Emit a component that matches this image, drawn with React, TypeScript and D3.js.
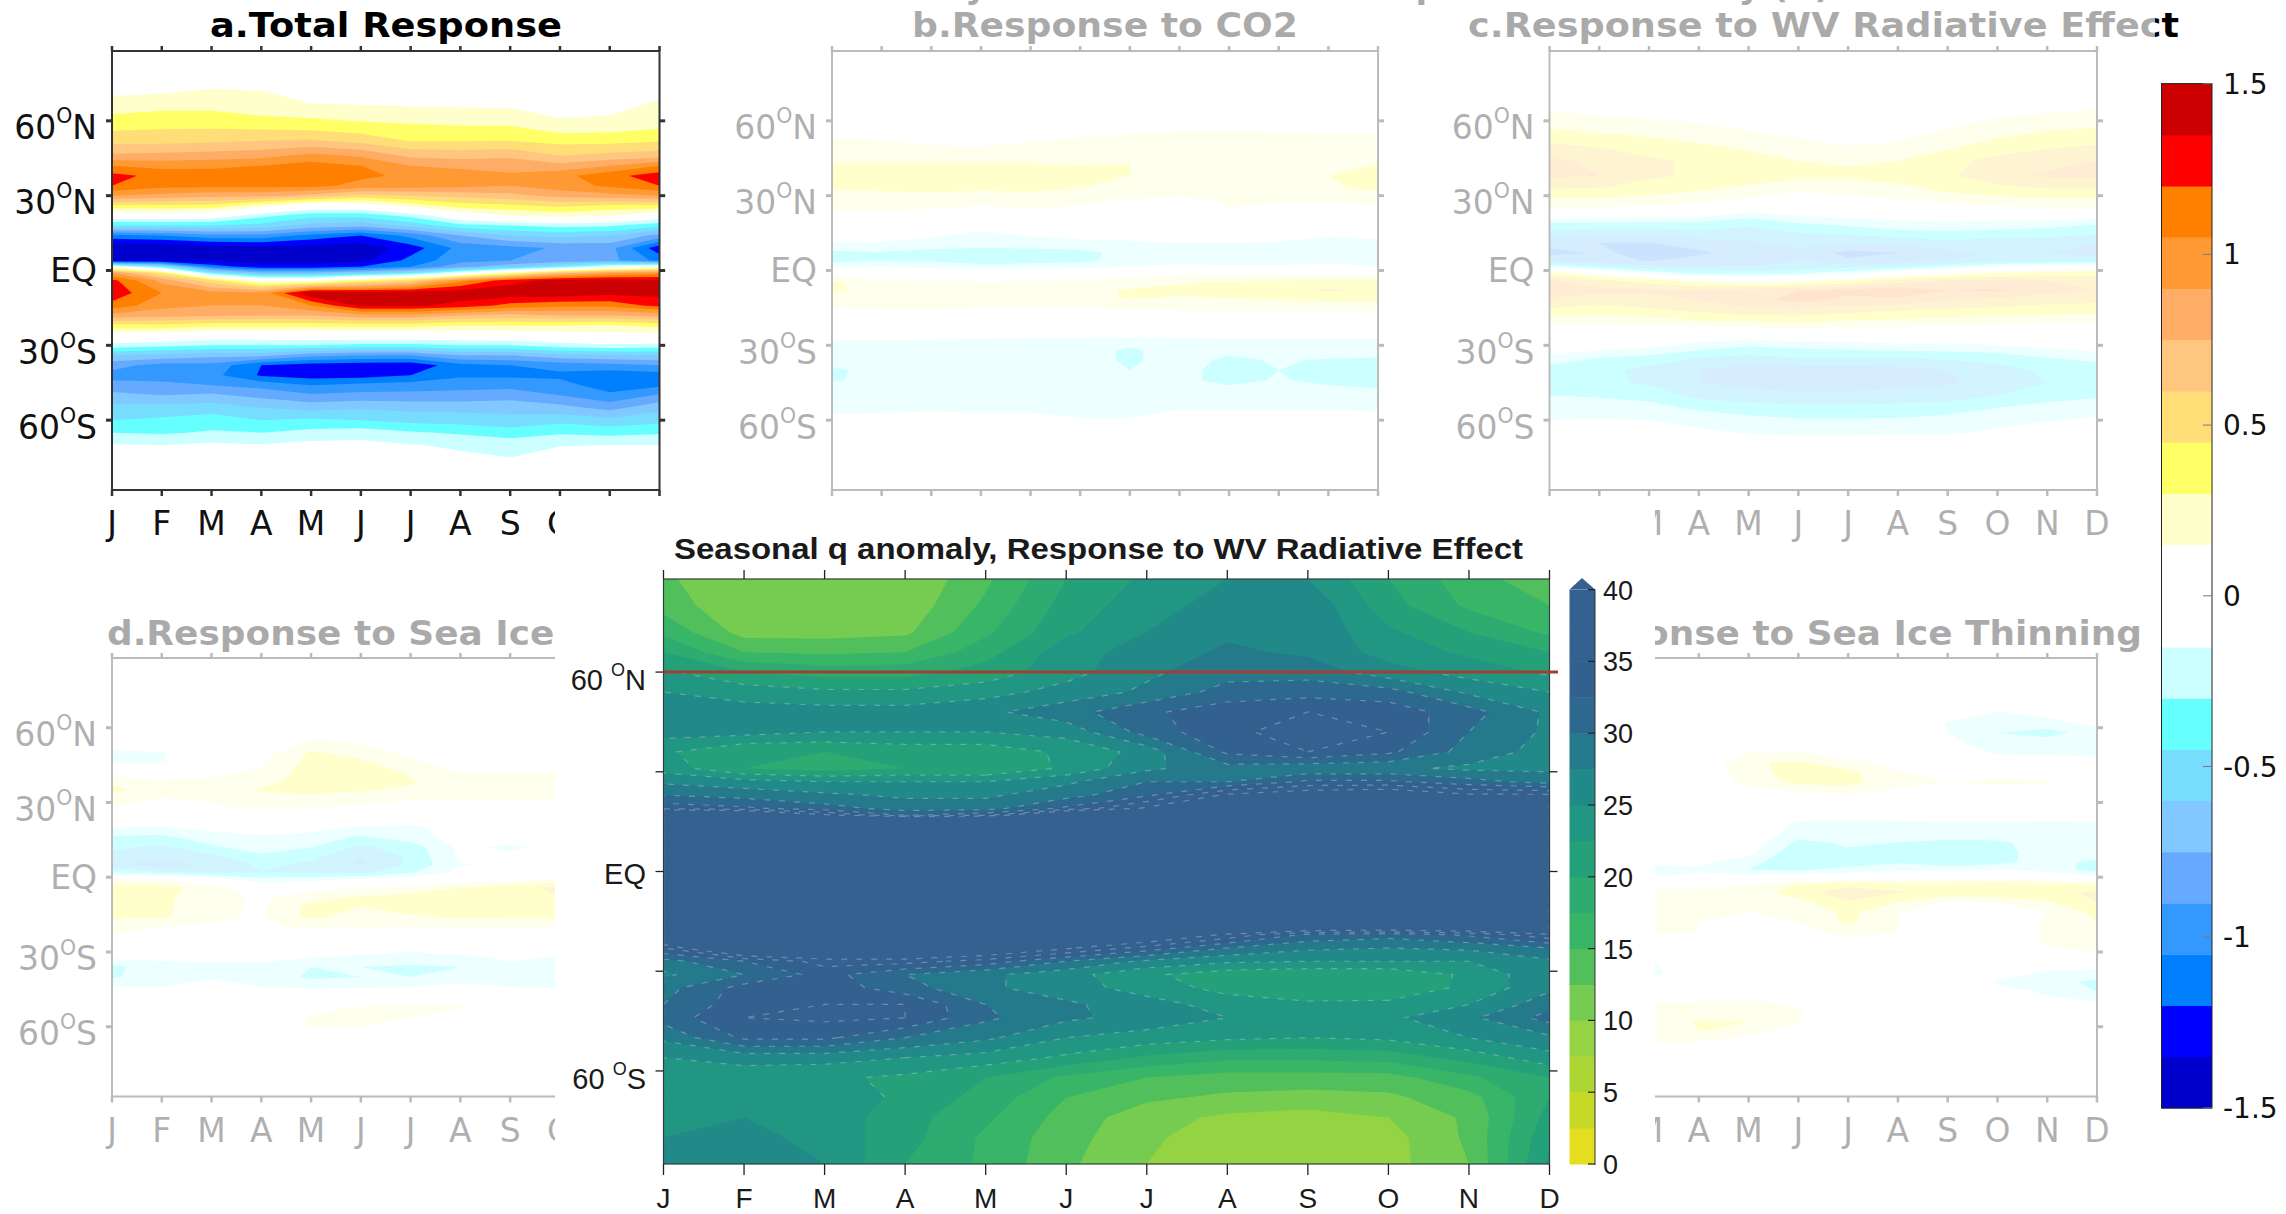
import React from 'react';
import * as d3 from 'd3';

const months = ['J', 'F', 'M', 'A', 'M', 'J', 'J', 'A', 'S', 'O', 'N', 'D'];
const latTicks = [60, 30, 0, -30, -60];
const barTicks = [1.5, 1, 0.5, 0, -0.5, -1, -1.5];
const qBarTicks = [40, 35, 30, 25, 20, 15, 10, 5, 0];

// anomaly colour bands, lowest first, one per 0.15 step from -1.5
const bandColors = ['#0000cc', '#0000ff', '#0080ff', '#3399ff', '#66aaff', '#80c8ff', '#77ddff', '#66ffff', '#ccffff', '#ffffff',
  '#ffffff', '#ffffcc', '#ffff66', '#ffdd77', '#ffc680', '#ffad66', '#ff9933', '#ff8000', '#ff0000', '#cc0000'];
const qStops = [0, 5, 10, 15, 20, 25, 30, 32.5, 40];
const qStopColors = ['#f2e11b', '#b9d62b', '#88d24a', '#3fba62', '#27a676', '#1f9287', '#26708c', '#33618f', '#34618f'];

const latsA = [88, 76, 70, 64, 58, 52, 46, 42, 38, 34, 30, 26, 22, 18, 14, 9, 4, 1.5, -1, -4, -9, -14, -18, -22, -26, -30, -34, -38, -42, -46, -50, -55, -60, -65, -70, -76, -88];
const gridA = [
  [0, 0, 0, 0, 0, 0, 0, 0, 0, 0, 0, 0],
  [.05, .05, .07, .06, .03, .03, .03, .03, .03, .02, .03, .04],
  [.15, .17, .22, .2, .08, .08, .08, .08, .06, .03, .05, .13],
  [.27, .3, .3, .25, .22, .2, .18, .17, .17, .1, .12, .22],
  [.4, .42, .42, .4, .38, .34, .32, .3, .3, .2, .22, .27],
  [.55, .55, .57, .6, .62, .55, .44, .44, .45, .4, .4, .44],
  [.78, .8, .82, .85, .95, .88, .72, .7, .72, .6, .65, .68],
  [1.05, 1.0, 1.02, 1.05, 1.12, 1.05, .9, .85, .85, .8, .9, 1.05],
  [1.25, 1.15, 1.12, 1.15, 1.18, 1.08, 1.02, 1.0, .92, 1.0, 1.15, 1.28],
  [1.2, 1.1, 1.1, 1.1, 1.1, 1.0, .98, .95, .9, .98, 1.08, 1.2],
  [.9, .85, .8, .8, .7, .55, .6, .65, .7, .8, .85, .9],
  [.42, .42, .4, .2, 0, 0, .2, .38, .42, .48, .42, .42],
  [-.02, 0, -.03, -.25, -.4, -.4, -.25, 0, .15, .2, .15, 0],
  [-.45, -.45, -.45, -.5, -.65, -.7, -.55, -.35, -.3, -.25, -.28, -.4],
  [-1.1, -1.05, -.95, -.95, -1.1, -1.2, -1.0, -.75, -.6, -.55, -.6, -.8],
  [-1.5, -1.5, -1.45, -1.42, -1.42, -1.45, -1.28, -1.0, -.95, -.88, -.85, -1.3],
  [-1.4, -1.4, -1.4, -1.4, -1.4, -1.4, -1.15, -.95, -.9, -.85, -.85, -1.1],
  [0, -.4, -1.1, -1.3, -1.3, -1.2, -1.05, -.8, -.65, -.4, -.1, .1],
  [.9, .45, -.4, -.7, -.7, -.6, -.45, -.1, .3, .7, .9, 1.0],
  [1.25, .85, .5, .1, .1, .35, .55, 1.0, 1.3, 1.4, 1.42, 1.38],
  [1.3, 1.05, .95, .95, 1.5, 1.45, 1.45, 1.45, 1.45, 1.45, 1.4, 1.4],
  [1.15, .95, .9, .9, 1.05, 1.38, 1.38, 1.3, 1.15, 1.1, 1.1, 1.25],
  [.85, .8, .78, .75, .75, .85, .85, .75, .7, .75, .75, .8],
  [.4, .4, .35, .35, .35, .35, .35, .3, .3, .3, .28, .35],
  [.05, .05, 0, 0, -.02, 0, 0, 0, .02, .05, .08, .08],
  [-.2, -.25, -.3, -.3, -.3, -.35, -.35, -.3, -.3, -.22, -.18, -.2],
  [-.6, -.65, -.7, -.7, -.85, -.9, -.9, -.75, -.75, -.65, -.62, -.6],
  [-.85, -.95, -.95, -1.2, -1.27, -1.3, -1.32, -1.1, -1.05, -1.0, -.95, -.9],
  [-.95, -.98, -1.0, -1.22, -1.27, -1.27, -1.2, -1.08, -1.08, -1.08, -1.15, -1.12],
  [-.85, -.85, -.9, -.95, -1.05, -1.0, -.98, -.95, -.95, -1.0, -1.12, -1.08],
  [-.7, -.75, -.72, -.8, -.88, -.85, -.85, -.85, -.82, -.9, -1.02, -.88],
  [-.55, -.55, -.52, -.6, -.65, -.62, -.65, -.65, -.65, -.7, -.8, -.65],
  [-.45, -.42, -.38, -.45, -.42, -.45, -.5, -.52, -.55, -.5, -.55, -.5],
  [-.3, -.32, -.28, -.3, -.25, -.22, -.28, -.32, -.38, -.32, -.35, -.32],
  [-.14, -.15, -.12, -.14, -.1, -.1, -.14, -.18, -.2, -.16, -.15, -.15],
  [-.03, -.03, -.03, -.03, -.02, -.02, -.03, -.1, -.14, -.05, -.03, -.03],
  [0, 0, 0, 0, 0, 0, 0, 0, 0, 0, 0, 0],
];

const latsB = [88, 60, 54, 48, 43, 38, 33, 28, 23, 19, 15, 11, 7, 4, 1, -2, -5, -8, -11, -15, -19, -24, -28, -32, -36, -40, -44, -48, -54, -59, -64, -88];
const gridB = [
  [0, 0, 0, 0, 0, 0, 0, 0, 0, 0, 0, 0],
  [0, 0, 0, 0, 0, .02, .03, .05, .06, .05, .04, .02],
  [.14, .13, .1, .1, .12, .14, .17, .19, .2, .18, .17, .17],
  [.2, .2, .18, .17, .2, .22, .24, .24, .25, .24, .23, .22],
  [.3, .3, .3, .3, .3, .29, .3, .27, .25, .25, .27, .3],
  [.36, .38, .38, .38, .38, .35, .3, .26, .24, .24, .3, .36],
  [.31, .34, .36, .33, .34, .3, .23, .2, .2, .2, .28, .33],
  [.18, .18, .2, .18, .2, .18, .14, .12, .16, .16, .16, .18],
  [.14, .14, .13, .1, .12, .1, .05, .05, .14, .1, .08, .1],
  [0, 0, 0, 0, 0, 0, 0, 0, 0, 0, 0, 0],
  [0, -.05, -.1, -.17, -.12, -.1, -.08, -.05, -.05, -.08, -.12, -.1],
  [-.15, -.17, -.2, -.22, -.2, -.18, -.17, -.15, -.15, -.16, -.19, -.18],
  [-.34, -.32, -.36, -.38, -.38, -.36, -.22, -.2, -.2, -.2, -.2, -.22],
  [-.34, -.32, -.32, -.4, -.38, -.34, -.24, -.2, -.2, -.2, -.18, -.28],
  [-.14, -.12, -.16, -.18, -.17, -.16, -.12, -.1, -.12, -.12, -.1, -.12],
  [.12, .1, .08, .08, .08, .1, .12, .15, .17, .2, .2, .2],
  [.33, .2, .18, .16, .17, .2, .22, .28, .34, .36, .38, .38],
  [.34, .22, .2, .18, .18, .22, .33, .36, .38, .4, .47, .42],
  [.2, .22, .22, .2, .2, .22, .32, .28, .3, .33, .35, .35],
  [.15, .16, .16, .15, .14, .14, .17, .18, .2, .2, .2, .22],
  [.05, .05, .05, .05, .05, .05, .05, .05, .05, .05, .05, .05],
  [0, 0, 0, 0, 0, 0, 0, 0, 0, 0, 0, 0],
  [-.15, -.15, -.16, -.18, -.2, -.2, -.22, -.2, -.18, -.18, -.18, -.18],
  [-.2, -.2, -.2, -.2, -.2, -.22, -.33, -.22, -.25, -.2, -.2, -.2],
  [-.24, -.22, -.22, -.22, -.22, -.22, -.33, -.22, -.34, -.28, -.32, -.34],
  [-.32, -.26, -.24, -.24, -.24, -.24, -.3, -.25, -.36, -.3, -.35, -.37],
  [-.32, -.24, -.24, -.28, -.28, -.24, -.24, -.25, -.36, -.28, -.36, -.38],
  [-.2, -.2, -.22, -.24, -.22, -.22, -.22, -.24, -.24, -.22, -.24, -.28],
  [-.18, -.18, -.18, -.18, -.18, -.18, -.18, -.18, -.18, -.18, -.18, -.18],
  [-.14, -.13, -.12, -.13, -.13, -.15, -.15, -.1, -.1, -.1, -.1, -.12],
  [0, 0, 0, 0, 0, 0, 0, 0, 0, 0, 0, 0],
  [0, 0, 0, 0, 0, 0, 0, 0, 0, 0, 0, 0],
];

const latsC = [88, 68, 62, 56, 50, 44, 38, 32, 27, 23, 19, 15, 11, 7, 4, 1.5, -1, -4, -8, -12, -16, -20, -25, -30, -35, -40, -45, -50, -55, -60, -65, -70, -88];
const gridC = [
  [0, 0, 0, 0, 0, 0, 0, 0, 0, 0, 0, 0],
  [.06, .05, .03, .02, .01, 0, 0, 0, .02, .05, .06, .08],
  [.19, .15, .13, .1, .05, .03, .02, .03, .08, .14, .17, .2],
  [.32, .28, .24, .2, .15, .1, .08, .1, .16, .24, .3, .33],
  [.48, .43, .38, .32, .27, .2, .15, .17, .26, .36, .42, .46],
  [.62, .58, .48, .42, .36, .3, .28, .3, .4, .5, .56, .6],
  [.63, .6, .48, .42, .38, .34, .33, .35, .42, .55, .62, .62],
  [.42, .42, .37, .3, .25, .17, .2, .25, .32, .38, .42, .42],
  [.24, .22, .18, .15, .05, .03, .05, .1, .15, .2, .22, .22],
  [.04, .03, 0, -.05, -.17, -.1, -.05, -.02, 0, .02, .03, .04],
  [-.3, -.32, -.33, -.33, -.42, -.3, -.25, -.2, -.17, -.2, -.22, -.28],
  [-.5, -.55, -.55, -.5, -.5, -.45, -.42, -.35, -.33, -.35, -.38, -.42],
  [-.72, -.75, -.76, -.68, -.62, -.58, -.6, -.58, -.5, -.55, -.55, -.6],
  [-.78, -.74, -.77, -.78, -.68, -.62, -.8, -.75, -.65, -.58, -.6, -.66],
  [-.68, -.66, -.77, -.68, -.66, -.6, -.72, -.66, -.6, -.55, -.5, -.5],
  [-.2, -.42, -.55, -.6, -.6, -.55, -.5, -.45, -.28, -.1, -.05, .02],
  [.35, .1, -.2, -.35, -.38, -.32, -.2, -.02, .15, .3, .35, .38],
  [.62, .48, .38, .2, .08, .15, .3, .5, .6, .6, .6, .55],
  [.72, .65, .62, .62, .68, .75, .78, .88, .75, .78, .65, .6],
  [.55, .5, .55, .6, .72, .78, .72, .7, .6, .55, .5, .48],
  [.42, .38, .42, .48, .55, .55, .5, .45, .42, .4, .38, .36],
  [.22, .22, .24, .3, .33, .35, .3, .28, .25, .22, .2, .18],
  [.02, 0, .02, 0, 0, .05, .03, .02, 0, 0, 0, 0],
  [0, -.05, -.1, -.2, -.28, -.25, -.22, -.18, -.18, -.15, -.1, -.05],
  [-.2, -.3, -.35, -.45, -.5, -.45, -.45, -.45, -.42, -.4, -.3, -.25],
  [-.38, -.4, -.5, -.6, -.68, -.68, -.68, -.66, -.6, -.5, -.42, -.4],
  [-.42, -.4, -.48, -.6, -.68, -.7, -.7, -.65, -.62, -.55, -.45, -.38],
  [-.3, -.32, -.35, -.5, -.52, -.55, -.55, -.55, -.52, -.45, -.38, -.33],
  [-.22, -.22, -.25, -.33, -.4, -.42, -.42, -.4, -.38, -.3, -.24, -.2],
  [-.15, -.14, -.15, -.2, -.24, -.28, -.28, -.28, -.24, -.2, -.16, -.13],
  [-.04, -.05, -.07, -.12, -.16, -.18, -.18, -.17, -.17, -.12, -.07, -.04],
  [0, 0, 0, -.01, -.03, -.05, -.04, -.02, -.02, 0, 0, 0],
  [0, 0, 0, 0, 0, 0, 0, 0, 0, 0, 0, 0],
];

const latsD = [88, 62, 56, 50, 46, 42, 38, 35, 32, 28, 24, 20, 16, 12, 8, 5, 2, -1, -4, -8, -12, -16, -20, -24, -28, -32, -36, -40, -44, -48, -52, -56, -60, -64, -88];
const gridD = [
  [0, 0, 0, 0, 0, 0, 0, 0, 0, 0, 0, 0],
  [0, 0, 0, 0, .02, .01, 0, 0, 0, 0, 0, 0],
  [0, 0, 0, .03, .14, .1, .02, 0, 0, 0, 0, 0],
  [-.18, -.16, 0, .07, .32, .24, .1, 0, 0, 0, 0, 0],
  [-.17, -.17, .02, .12, .36, .33, .2, .03, 0, 0, 0, 0],
  [.05, .08, .12, .18, .38, .38, .28, .15, .15, .16, .1, .05],
  [.28, .17, .18, .25, .38, .36, .32, .18, .18, .18, .12, .1],
  [.36, .18, .18, .32, .36, .32, .25, .2, .2, .2, .12, .1],
  [.2, .15, .16, .25, .24, .22, .18, .18, .2, .18, .1, .1],
  [.15, .1, .14, .17, .15, .12, .08, .05, .05, .05, .03, .03],
  [.03, .03, .03, 0, 0, 0, 0, 0, 0, 0, 0, 0],
  [-.15, -.17, -.1, -.08, -.1, -.17, -.2, -.05, -.03, 0, 0, 0],
  [-.33, -.34, -.22, -.17, -.2, -.33, -.22, -.08, -.05, 0, 0, 0],
  [-.42, -.48, -.33, -.22, -.3, -.48, -.38, -.12, -.18, -.1, 0, 0],
  [-.5, -.58, -.5, -.35, -.42, -.6, -.42, -.12, -.1, -.05, 0, 0],
  [-.55, -.7, -.55, -.42, -.48, -.62, -.42, -.16, -.12, -.05, 0, 0],
  [-.32, -.42, -.45, -.45, -.45, -.5, -.32, -.1, -.03, 0, 0, 0],
  [.2, .15, -.05, -.25, -.2, -.1, -.05, .05, .1, .2, .2, .2],
  [.4, .38, .2, .05, .05, .15, .2, .3, .38, .5, .3, .3],
  [.35, .33, .22, .12, .25, .32, .35, .45, .42, .45, .3, .3],
  [.37, .33, .2, .12, .36, .3, .35, .42, .4, .42, .3, .25],
  [.33, .33, .18, .13, .34, .22, .28, .32, .33, .33, .25, .2],
  [.18, .15, .13, .12, .18, .15, .15, .16, .17, .17, .15, .1],
  [.14, .1, .05, .02, .03, .02, .02, .03, .03, .03, .03, 0],
  [0, 0, 0, 0, -.02, -.05, -.08, -.02, 0, 0, 0, 0],
  [-.1, -.13, -.13, -.1, -.13, -.18, -.22, -.18, -.12, -.16, -.1, -.1],
  [-.35, -.18, -.17, -.2, -.3, -.3, -.32, -.3, -.18, -.2, -.15, -.1],
  [-.33, -.18, -.16, -.2, -.33, -.3, -.3, -.2, -.16, -.2, -.15, -.1],
  [-.15, -.15, -.12, -.15, -.18, -.17, -.15, -.12, -.15, -.17, -.1, -.08],
  [0, 0, 0, 0, 0, 0, 0, .08, .05, 0, 0, 0],
  [0, 0, 0, 0, .03, .16, .18, .17, 0, 0, 0, 0],
  [0, 0, 0, 0, .17, .18, .16, .05, 0, 0, 0, 0],
  [0, 0, 0, 0, .16, .15, .03, 0, 0, 0, 0, 0],
  [0, 0, 0, 0, 0, 0, 0, 0, 0, 0, 0, 0],
  [0, 0, 0, 0, 0, 0, 0, 0, 0, 0, 0, 0],
];

const latsE = [88, 70, 66, 62, 58, 54, 50, 46, 42, 38, 34, 30, 26, 22, 18, 14, 10, 6, 3, 0, -3, -6, -10, -14, -18, -22, -26, -30, -34, -38, -42, -46, -50, -54, -58, -62, -66, -70, -88];
const gridE = [
  [0, 0, 0, 0, 0, 0, 0, 0, 0, 0, 0, 0],
  [0, 0, 0, 0, 0, 0, 0, 0, 0, 0, 0, 0],
  [0, 0, 0, 0, 0, 0, 0, 0, -.05, -.16, -.1, -.03],
  [0, 0, 0, 0, 0, 0, 0, 0, -.16, -.22, -.2, -.1],
  [0, 0, 0, 0, 0, 0, 0, 0, -.15, -.3, -.36, -.22],
  [0, 0, 0, 0, 0, 0, 0, 0, -.1, -.25, -.22, -.2],
  [0, 0, 0, 0, .15, .16, .07, .02, 0, -.17, -.17, -.17],
  [-.12, -.12, -.16, .03, .28, .33, .2, .1, 0, -.05, -.08, -.12],
  [0, 0, 0, .03, .22, .38, .34, .16, .1, .1, .05, 0],
  [.1, .15, .15, .02, .2, .34, .36, .18, .15, .18, .18, .02],
  [.1, .12, .12, .02, .03, .14, .18, .12, .05, .04, 0, 0],
  [0, 0, 0, 0, 0, 0, 0, 0, 0, 0, 0, 0],
  [0, 0, 0, 0, 0, -.02, -.05, -.03, -.02, 0, 0, 0],
  [0, 0, 0, 0, 0, -.17, -.18, -.17, -.16, -.16, -.17, -.16],
  [0, 0, 0, 0, -.02, -.22, -.22, -.22, -.2, -.22, -.2, -.2],
  [0, 0, 0, 0, -.05, -.33, -.28, -.3, -.33, -.32, -.25, -.22],
  [0, -.02, -.02, 0, -.1, -.42, -.32, -.35, -.38, -.36, -.22, -.2],
  [-.2, -.2, -.1, -.1, -.25, -.42, -.38, -.32, -.42, -.35, -.22, -.35],
  [-.35, -.36, -.3, -.18, -.3, -.32, -.25, -.18, -.18, -.15, -.2, -.38],
  [-.32, -.2, -.15, -.1, -.05, -.02, 0, 0, 0, 0, 0, -.1],
  [.05, .1, .1, .12, .15, .32, .42, .38, .38, .4, .36, .35],
  [.15, .15, .18, .18, .2, .4, .52, .46, .42, .45, .42, .47],
  [.18, .2, .22, .2, .18, .25, .44, .3, .12, .15, .28, .45],
  [.2, .22, .34, .16, .15, .18, .34, .16, .02, 0, .15, .35],
  [.15, .18, .2, .15, .1, .15, .33, .15, 0, 0, .17, .3],
  [.15, .15, .18, .15, .12, .1, .2, .15, 0, 0, .18, .25],
  [0, 0, .05, .03, 0, 0, .1, .03, 0, 0, .18, .18],
  [0, 0, 0, 0, 0, 0, 0, 0, 0, 0, .1, .15],
  [-.12, -.16, -.17, 0, 0, 0, 0, 0, 0, 0, -.02, -.03],
  [-.15, -.18, -.18, -.08, 0, 0, 0, 0, 0, -.03, -.17, -.2],
  [-.1, -.12, -.15, -.05, 0, 0, 0, 0, 0, -.17, -.25, -.33],
  [0, 0, .05, .05, .05, .05, .03, .08, 0, -.1, -.17, -.3],
  [0, .05, .15, .15, .17, .12, .16, .1, 0, -.05, -.12, -.15],
  [.1, .15, .16, .18, .18, .16, .08, .02, 0, 0, 0, 0],
  [.15, .2, .18, .32, .3, .15, .03, 0, 0, 0, 0, 0],
  [.16, .18, .18, .3, .18, .1, 0, 0, 0, 0, 0, 0],
  [.15, .18, .16, .15, .1, .02, 0, 0, 0, 0, 0, 0],
  [.02, .02, .02, .02, .02, 0, 0, 0, 0, 0, 0, 0],
  [0, 0, 0, 0, 0, 0, 0, 0, 0, 0, 0, 0],
];

const latsQ = [88, 80, 72, 66, 60, 54, 48, 42, 36, 31, 27, 23, 19, 17, 15, 0, -15, -19, -23, -27, -31, -35, -40, -44, -50, -56, -62, -68, -74, -80, -88];
const gridQ = [
  [13, 10.2, 10.2, 10.2, 14.5, 20, 23, 25, 25, 20, 16, 13.5],
  [14, 10.3, 10.5, 10.8, 15.5, 21, 24, 26, 27, 21, 17, 15],
  [17, 11.5, 11.5, 12, 17, 22, 25, 27, 27, 23, 20, 17],
  [20, 15, 14.5, 15, 19, 24, 26, 28, 27, 24, 22, 20],
  [23, 20, 19, 19, 21, 24, 27, 29, 29, 26, 24, 22],
  [25, 24, 23, 23, 24, 26, 28, 31, 31.5, 31, 27, 25],
  [27, 26, 26, 26, 27, 29, 32, 34, 35, 34, 31, 27],
  [26, 26, 25, 25, 25, 26, 31, 34.5, 36, 35, 30, 27],
  [23, 20, 20, 21, 21, 23, 26, 33, 35, 33, 29, 26.5],
  [24, 20, 19, 20, 20, 23, 27, 29, 28, 28, 27, 27],
  [27, 26, 25, 25, 25, 27, 30, 30, 33, 33, 31, 29],
  [30, 29, 28, 27, 27, 29, 32, 38, 40, 41, 38, 38],
  [34, 33, 31, 29, 29, 33, 38, 50, 50, 50, 50, 50],
  [50, 46, 38, 32, 34, 45, 50, 52, 52, 52, 52, 52],
  [55, 55, 55, 55, 55, 55, 55, 55, 55, 55, 55, 55],
  [60, 60, 60, 60, 60, 60, 60, 60, 60, 60, 60, 60],
  [50, 50, 50, 50, 50, 50, 50, 50, 50, 50, 50, 50],
  [45, 45, 45, 50, 50, 45, 42, 37, 32, 31, 33, 37],
  [35, 45, 45, 45, 42, 38, 34, 30, 28, 27.5, 28, 30],
  [29, 32.5, 36, 36, 34, 30, 27, 25.5, 25, 25, 25, 27],
  [27, 30, 33.5, 30, 28, 26, 23, 21, 20.5, 20.5, 23, 27],
  [29, 33.5, 34, 31, 28, 26, 24, 21.5, 20.5, 21, 23, 27],
  [30, 34, 35, 35, 30, 28, 26, 24, 23, 23, 25, 29],
  [31, 35, 35.5, 35, 30.5, 28, 26.5, 25, 23.5, 24.5, 27, 31],
  [28, 33, 33, 30, 28, 25, 24, 23, 22.5, 23, 25, 27],
  [25, 26, 26, 25, 24, 22, 19.5, 18, 18, 18.5, 21, 24],
  [24, 23.5, 23, 22, 20, 17, 15, 14, 14, 14, 17, 20],
  [23, 23, 24, 22, 19, 15, 13, 12, 11.5, 12, 14, 20],
  [23, 25, 24, 21, 18, 14, 11, 9.5, 9, 10, 13, 21],
  [25, 26, 24, 21, 17, 13.5, 10.5, 8.5, 8, 9, 13, 22],
  [25, 26, 25, 20, 17, 13, 10, 7.6, 7.6, 9, 12.5, 23],
];

const W = 2286;
const H = 1214;
const fade = 0.667;
const frameColor = '#333333';
const sans = '"DejaVu Sans", sans-serif';
const helv = '"Liberation Sans", Arial, sans-serif';

const bandEdges = d3.range(0, 20).map((i) => -1.5 + i * 0.15);
const qEdges = d3.range(0, 16).map((i) => i * 2.5);
const qColor = d3.scaleLinear<string>().domain(qStops).range(qStopColors).interpolate(d3.interpolateRgb);

// contour paths for a month x latitude table; rows do not need even latitude steps
function bandPaths(lats: number[], grid: number[][], edges: number[], x: any, y: any) {
  const gx = d3.scaleLinear().domain([0.5, months.length - 0.5]).range([x(0), x(months.length - 1)]).clamp(true);
  const gy = d3.scaleLinear().domain(lats.map((_, i) => i + 0.5)).range(lats.map((l) => y(l))).clamp(true);
  const path = d3.geoPath(d3.geoTransform({
    point(px: number, py: number) {
      (this as any).stream.point(gx(px), gy(py));
    },
  }));
  const contours = d3.contours().size([months.length, lats.length]).smooth(true).thresholds(edges);
  return contours(grid.flat()).map((c) => ({ value: c.value, d: path(c as any) || '' }));
}

const LatLabel = ({ lat, x, y, size, font, gap }: any) => {
  if (lat === 0) {
    return <text x={x} y={y + size * 0.36} textAnchor="end" fontSize={size} fontFamily={font}>EQ</text>;
  }
  return (
    <text x={x} y={y + size * 0.56} textAnchor="end" fontSize={size} fontFamily={font}>
      {Math.abs(lat)}{gap}
      <tspan fontSize={size * 0.62} dy={-size * 0.48}>O</tspan>
      <tspan dy={size * 0.48}>{lat > 0 ? 'N' : 'S'}</tspan>
    </text>
  );
};

// hidden lists the month labels that sit wholly under the inset and are not drawn
const AnomalyPanel = ({ left, right, top, bottom, lats, grid, title, titleX, titleY, titleW, hidden = [] }: any) => {
  const x = d3.scaleLinear().domain([0, 11]).range([left, right]);
  const y = d3.scaleLinear().domain([88, -88]).range([top, bottom]);
  const paths = bandPaths(lats, grid, bandEdges.slice(1), x, y);
  return (
    <g>
      <rect x={left} y={top} width={right - left} height={bottom - top} fill={bandColors[0]} />
      {paths.map((p) => (
        <path key={p.value} d={p.d} fill={bandColors[bandEdges.findIndex((e) => Math.abs(e - p.value) < 1e-6)]} />
      ))}
      <rect x={left} y={top} width={right - left} height={bottom - top} fill="none" stroke={frameColor} strokeWidth={2} />
      {months.map((m, i) => (
        <g key={i}>
          <line x1={x(i)} x2={x(i)} y1={top} y2={top - 5} stroke={frameColor} strokeWidth={2.5} />
          <line x1={x(i)} x2={x(i)} y1={bottom} y2={bottom + 6} stroke={frameColor} strokeWidth={2.5} />
          {hidden.includes(i) ? null : (
            <text x={x(i)} y={bottom + 45} textAnchor="middle" fontSize={33} fontFamily={sans} fill="#111">{m}</text>
          )}
        </g>
      ))}
      {latTicks.map((l) => (
        <g key={l}>
          <line x1={left - 6} x2={left} y1={y(l)} y2={y(l)} stroke={frameColor} strokeWidth={3} />
          <line x1={right} x2={right + 6} y1={y(l)} y2={y(l)} stroke={frameColor} strokeWidth={3} />
          <g fill="#111"><LatLabel lat={l} x={left - 15} y={y(l)} size={33} font={sans} gap="" /></g>
        </g>
      ))}
      <text x={titleX} y={titleY} fontSize={34} fontWeight="bold" fontFamily={sans} textLength={titleW} lengthAdjust="spacingAndGlyphs">{title}</text>
    </g>
  );
};

const AnomalyBar = () => {
  const [x0, x1] = [2161.5, 2212];
  const y = d3.scaleLinear().domain([1.5, -1.5]).range([83.6, 1108]);
  return (
    <g>
      {bandEdges.map((e, i) => (
        <rect key={i} x={x0} width={x1 - x0} y={y(e + 0.15)} height={y(e) - y(e + 0.15) + 0.5} fill={bandColors[i]} />
      ))}
      <rect x={x0} y={y(1.5)} width={x1 - x0} height={y(-1.5) - y(1.5)} fill="none" stroke="#222" strokeWidth={1} />
      {barTicks.map((t) => (
        <g key={t}>
          <line x1={x1 - 9} x2={x1} y1={y(t)} y2={y(t)} stroke="#777" strokeWidth={1} />
          <text x={2223} y={y(t) + 10} fontSize={28} fontFamily={sans} fill="#111">{t}</text>
        </g>
      ))}
    </g>
  );
};

const QPanel = () => {
  const [left, right, top, bottom] = [663.5, 1549.5, 579, 1164];
  const x = d3.scaleLinear().domain([0, 11]).range([left, right]);
  const y = d3.scaleLinear().domain([88, -88]).range([top, bottom]);
  const bars = d3.scaleLinear().domain([0, 40]).range([1164, 589.6]);
  const bandFill = (e: number) => qColor(e === 37.5 ? 40 : e + 1.25);
  const fills = bandPaths(latsQ, gridQ, qEdges.slice(1), x, y);
  const lines = bandPaths(latsQ, gridQ, d3.range(8, 15).map((i) => 2.5 * i + 2.5), x, y);
  return (
    <g fontFamily={helv} fill="#1a1a1a">
      <rect x={555} y={498} width={1100} height={H - 498} fill="#fff" />
      <rect x={left} y={top} width={right - left} height={bottom - top} fill={bandFill(0)} />
      {fills.map((p) => <path key={p.value} d={p.d} fill={bandFill(p.value)} />)}
      <clipPath id="q-dashes"><rect x={left} y={y(60)} width={right - left} height={y(-68) - y(60)} /></clipPath>
      <g clipPath="url(#q-dashes)" fill="none" stroke="#c3ccd8" strokeOpacity={0.4} strokeWidth={1.2} strokeDasharray="6 9">
        {lines.map((p) => <path key={p.value} d={p.d} />)}
      </g>
      <rect x={left} y={top} width={right - left} height={bottom - top} fill="none" stroke="#2f3f3f" strokeWidth={1.2} />
      {months.map((m, i) => (
        <g key={i}>
          <line x1={x(i)} x2={x(i)} y1={top} y2={top - 9} stroke="#222" strokeWidth={1.3} />
          <line x1={x(i)} x2={x(i)} y1={bottom} y2={bottom + 11} stroke="#222" strokeWidth={1.3} />
          <text x={x(i)} y={1208} textAnchor="middle" fontSize={28}>{m}</text>
        </g>
      ))}
      {latTicks.map((l) => (
        <g key={l}>
          <line x1={left - 8} x2={left} y1={y(l)} y2={y(l)} stroke="#222" strokeWidth={1.3} />
          <line x1={right} x2={right + 8} y1={y(l)} y2={y(l)} stroke="#222" strokeWidth={1.3} />
          {l === 60 || l === 0 || l === -60 ? <LatLabel lat={l} x={646} y={y(l) + 2} size={29} font={helv} gap=" " /> : null}
        </g>
      ))}
      <line x1={left} x2={1558} y1={y(60)} y2={y(60)} stroke="#a23f33" strokeWidth={3} />
      <text x={674} y={559} fontSize={30} fontWeight="bold" textLength={849} lengthAdjust="spacingAndGlyphs">Seasonal q anomaly, Response to WV Radiative Effect</text>
      {qEdges.map((e) => (
        <rect key={e} x={1569.5} width={25.5} y={bars(e + 2.5)} height={bars(e) - bars(e + 2.5) + 0.5} fill={bandFill(e)} />
      ))}
      <path d={d3.line()([[1569.5, bars(40)], [1582, 578], [1595, bars(40)]]) || ''} fill={bandFill(37.5)} />
      <line x1={1595} x2={1595} y1={bars(40)} y2={1165} stroke="#333" strokeWidth={1} />
      {qBarTicks.map((t) => (
        <g key={t}>
          <line x1={1588} x2={1595} y1={bars(t)} y2={bars(t)} stroke="#222" strokeWidth={1.2} />
          <text x={1603} y={bars(t) + 10} fontSize={27}>{t}</text>
        </g>
      ))}
    </g>
  );
};

export default function App() {
  return (
    <svg width={W} height={H} style={{ position: 'absolute', left: 0, top: 0, display: 'block' }}>
      <rect width={W} height={H} fill="#fff" />
      <text x={1830} y={-2} textAnchor="end" fontSize={34} fontWeight="bold" fontFamily={sans}>Seasonal Cycle of Zonal Mean Temperature Anomaly (K)</text>
      <AnomalyPanel left={112} right={659.5} top={51} bottom={490} lats={latsA} grid={gridA} title="a.Total Response" titleX={210} titleY={37} titleW={352} hidden={[10, 11]} />
      <AnomalyPanel left={832} right={1378} top={51} bottom={490} lats={latsB} grid={gridB} title="b.Response to CO2" titleX={912} titleY={37} titleW={386} hidden={months.map((_, i) => i)} />
      <AnomalyPanel left={1549.5} right={2097} top={51} bottom={490} lats={latsC} grid={gridC} title="c.Response to WV Radiative Effect" titleX={1468} titleY={37} titleW={711} hidden={[0, 1]} />
      <AnomalyPanel left={112} right={659.5} top={658} bottom={1096.5} lats={latsD} grid={gridD} title="d.Response to Sea Ice Thickening" titleX={107} titleY={645} titleW={680} hidden={[10, 11]} />
      <AnomalyPanel left={1549.5} right={2097} top={658} bottom={1096.5} lats={latsE} grid={gridE} title="e.Response to Sea Ice Thinning" titleX={1507} titleY={645} titleW={635} hidden={[0, 1]} />
      {/* white veils over the panels that are not in focus */}
      <rect x={665} y={0} width={1490} height={H} fill="#fff" fillOpacity={fade} />
      <rect x={0} y={575} width={555} height={H - 575} fill="#fff" fillOpacity={fade} />
      <AnomalyBar />
      <QPanel />
    </svg>
  );
}
